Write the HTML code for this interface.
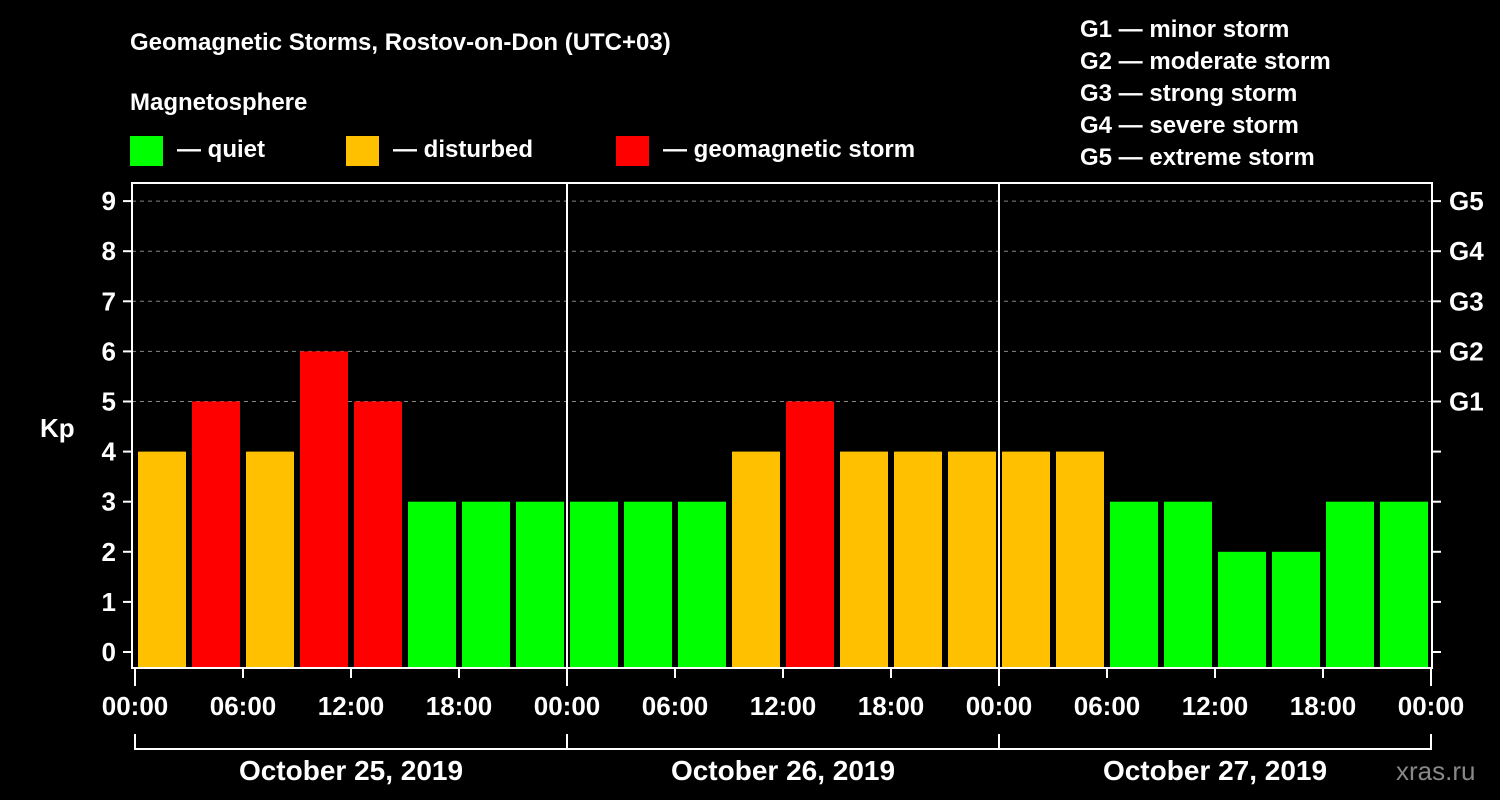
<!DOCTYPE html>
<html><head><meta charset="utf-8"><style>
body{margin:0;background:#000;width:1500px;height:800px;overflow:hidden}
svg{display:block;font-family:"Liberation Sans",Arial,sans-serif;font-weight:bold}
</style></head><body>
<svg id="c" width="1500" height="800">
<text x="130" y="50" fill="#fff" font-size="24">Geomagnetic Storms, Rostov-on-Don (UTC+03)</text>
<text x="130" y="110" fill="#fff" font-size="24">Magnetosphere</text>
<rect x="130" y="136" width="33" height="30" fill="#00ff00"/>
<text x="177" y="157" fill="#fff" font-size="24">— quiet</text>
<rect x="346" y="136" width="33" height="30" fill="#ffc000"/>
<text x="393" y="157" fill="#fff" font-size="24">— disturbed</text>
<rect x="616" y="136" width="33" height="30" fill="#ff0000"/>
<text x="663" y="157" fill="#fff" font-size="24">— geomagnetic storm</text>
<g fill="#fff" font-size="24">
<text x="1080" y="37">G1 — minor storm</text>
<text x="1080" y="69">G2 — moderate storm</text>
<text x="1080" y="101">G3 — strong storm</text>
<text x="1080" y="133">G4 — severe storm</text>
<text x="1080" y="165">G5 — extreme storm</text>
</g>
<text x="40" y="437" fill="#fff" font-size="26">Kp</text>
<text x="1396" y="780" fill="#888" font-size="26" font-weight="normal">xras.ru</text>
<g id="plot"></g>
</svg>
<script>
const kpValues=[4,5,4,6,5,3,3,3, 3,3,3,4,5,4,4,4, 4,4,3,3,2,2,3,3];
const yTicks=[0,1,2,3,4,5,6,7,8,9];
const gLabels=["G1","G2","G3","G4","G5"];
const xTickLabels=["00:00","06:00","12:00","18:00","00:00","06:00","12:00","18:00","00:00","06:00","12:00","18:00","00:00"];
const dayLabels=["October 25, 2019","October 26, 2019","October 27, 2019"];
const NS="http://www.w3.org/2000/svg";
const g=document.getElementById('plot');
const X0=135,STEP=54,Y0=652,YU=50.1;
const xs=i=>X0+i*STEP, ys=v=>Y0-v*YU;
function mk(t,a,txt){const e=document.createElementNS(NS,t);for(const k in a)e.setAttribute(k,a[k]);if(txt!=null)e.textContent=txt;g.appendChild(e);return e;}
// grid
for(let v=5;v<=9;v++){const e=mk('line',{x1:132,x2:1432,y1:ys(v),y2:ys(v),stroke:'#888','stroke-dasharray':'4,4','stroke-width':1});

}
// bars
kpValues.forEach((v,i)=>{const c=v>=5?'#ff0000':(v>=4?'#ffc000':'#00ff00');
const e=mk('rect',{x:xs(i)+3,y:ys(v),width:48,height:668-ys(v),fill:c});

});
// day separators
[1,2].forEach(d=>{const e=mk('line',{x1:xs(d*8),x2:xs(d*8),y1:183,y2:668,stroke:'#fff','stroke-width':2});

});
// frame
const fr=mk('rect',{x:132,y:183,width:1300,height:485,fill:'none',stroke:'#fff','stroke-width':2});


// y ticks
yTicks.forEach(v=>{mk('line',{x1:123,x2:132,y1:ys(v),y2:ys(v),stroke:'#fff','stroke-width':2});
mk('line',{x1:1432,x2:1441,y1:ys(v),y2:ys(v),stroke:'#fff','stroke-width':2});
const t=mk('text',{x:116,y:ys(v)+9,fill:'#fff','font-size':26,'text-anchor':'end'},String(v));

});
gLabels.forEach((l,i)=>{const t=mk('text',{x:1449,y:ys(5+i)+9,fill:'#fff','font-size':26},l);

});
// x ticks
xTickLabels.forEach((l,i)=>{const x=xs(i*2);
mk('line',{x1:x,x2:x,y1:668,y2:i%4==0?686:678,stroke:'#fff','stroke-width':2});
const t=mk('text',{x:x,y:715,fill:'#fff','font-size':26,'text-anchor':'middle'},l);

});
for(let i=1;i<24;i+=2){mk('line',{x1:xs(i*2)-54,x2:xs(i*2)-54,y1:0,y2:0});}
// day bracket
mk('line',{x1:xs(0),x2:xs(24),y1:749,y2:749,stroke:'#fff','stroke-width':2});
for(let d=0;d<=3;d++)mk('line',{x1:xs(d*8),x2:xs(d*8),y1:734,y2:750,stroke:'#fff','stroke-width':2});
dayLabels.forEach((l,d)=>{const t=mk('text',{x:xs(d*8+4),y:780,fill:'#fff','font-size':28,'text-anchor':'middle'},l);

});
</script>
</body></html>
